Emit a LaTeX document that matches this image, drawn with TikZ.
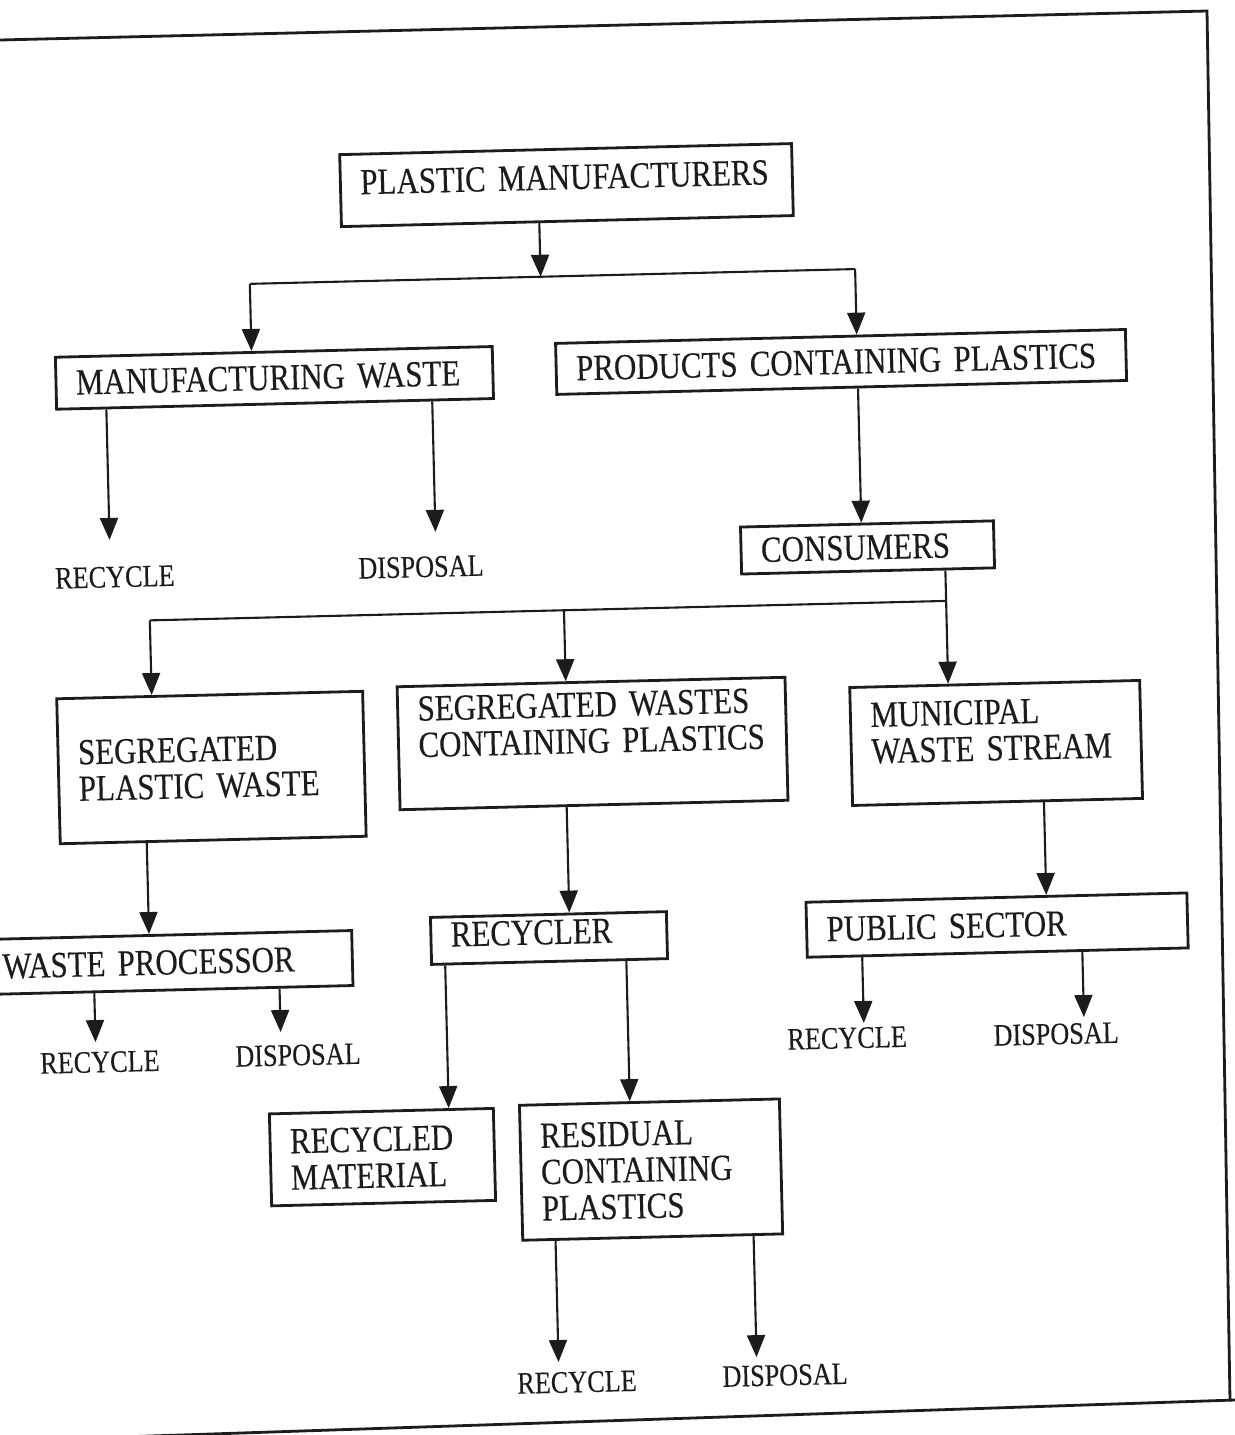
\documentclass[tikz,border=0pt]{standalone}
\usepackage{fontspec}
\setmainfont{Liberation Serif}
\newfontfamily\dfont[FakeStretch=0.84,FakeBold=0.25]{Liberation Serif}
\usetikzlibrary{arrows.meta}
\definecolor{ink}{RGB}{28,28,28}
\begin{document}
\begin{tikzpicture}[x=0.5pt,y=-0.5pt,
  box/.style={draw=ink, line width=1.4pt, inner xsep=10pt, inner ysep=0pt, align=left,
              font=\dfont\fontsize{18.4}{18.2}\selectfont, text=ink},
  lbl/.style={font=\dfont\fontsize{15.6}{16}\selectfont, text=ink, inner sep=0pt},
  arr/.style={draw=ink, line width=1.05pt, -{Triangle[width=9pt,length=11pt]}},
  ln/.style={draw=ink, line width=1.05pt},
  frameline/.style={draw=ink, line width=1.4pt}]
\useasboundingbox (0,0) rectangle (1235,1435);
\fill[white] (0,0) rectangle (1235,1435);
% page frame of the scan
\coordinate (f1) at (0,40);
\coordinate (f2) at (1207,11);
\coordinate (f3) at (1230,1401);
\coordinate (f4) at (0,1441);
\coordinate (f5) at (1235,1400);
\draw[frameline] (f1) -- (f2) -- (f3);
\draw[frameline] (f4) -- (f5);
\begin{scope}[rotate around={1.4:(617,717)}, transform shape]
% boxes
\node[box, text width=206pt, minimum height=36pt] (pm) at (579.5,184)
  {\mbox{PLASTIC MANUFACTURERS}\rule[-8pt]{0pt}{0pt}};
\node[box, text width=198.5pt, minimum height=26pt] (mw) at (282.8,369.6)
  {\mbox{MANUFACTURING WASTE}};
\node[box, text width=265pt, minimum height=25.5pt] (pcp) at (849.7,367.5)
  {\mbox{PRODUCTS CONTAINING PLASTICS}};
\node[box, text width=106.5pt, minimum height=23.5pt] (cons) at (871.6,553.6)
  {\mbox{CONSUMERS}};
\node[box, text width=133pt, minimum height=72.5pt] (spw) at (210.3,757.6)
  {\mbox{SEGREGATED}\\\mbox{PLASTIC WASTE}};
\node[box, text width=174pt, minimum height=61.5pt] (swcp) at (591.9,742.9)
  {\mbox{SEGREGATED WASTES}\\\mbox{CONTAINING PLASTICS}\rule[-21pt]{0pt}{0pt}};
\node[box, text width=125pt, minimum height=59pt] (mws) at (995.4,752.2)
  {\mbox{MUNICIPAL}\\\mbox{WASTE STREAM}\rule[-13pt]{0pt}{0pt}};
\node[box, text width=165pt, minimum height=27.5pt] (wp) at (161.5,951.5)
  {\mbox{WASTE PROCESSOR}};
\node[box, text width=98pt, minimum height=23.5pt] (rcy) at (543.6,936.3)
  {\mbox{RECYCLER}\rule[-6pt]{0pt}{0pt}};
\node[box, text width=170.5pt, minimum height=27.5pt] (ps) at (991.9,934.3)
  {\mbox{PUBLIC SECTOR}};
\node[box, text width=92pt, minimum height=46pt] (rm) at (371.8,1151.3)
  {\mbox{RECYCLED}\\\mbox{MATERIAL}};
\node[box, text width=110pt, minimum height=67.5pt] (res) at (640,1170.3)
  {\mbox{RESIDUAL}\\\mbox{CONTAINING}\\\mbox{PLASTICS}};
% labels
\node[lbl] (l1) at (118.4,564.8) {RECYCLE};
\node[lbl] (l2) at (424.7,562.2) {DISPOSAL};
\node[lbl] (l3) at (91.6,1049.4) {RECYCLE};
\node[lbl] (l4) at (289.8,1047.2) {DISPOSAL};
\node[lbl] (l5) at (560.8,1381) {RECYCLE};
\node[lbl] (l6) at (769,1379.1) {DISPOSAL};
\node[lbl] (l7) at (839.2,1043.6) {RECYCLE};
\node[lbl] (l8) at (1048.3,1044.7) {DISPOSAL};
% junction and tip coordinates
\coordinate (j1) at (551.4,275);
\coordinate (j1l) at (260.5,275);
\coordinate (j1r) at (866,275);
\coordinate (j2l) at (152.3,609);
\coordinate (j2m) at (566.6,609);
\coordinate (j2r) at (948.9,609);
\coordinate (c1) at (143.8,900);
\coordinate (c2) at (564.5,860);
\coordinate (c3) at (439.2,1030);
\coordinate (c4) at (620.4,1030);
\coordinate (c5) at (1041.8,860);
\coordinate (t1) at (114,527.6);
\coordinate (t2) at (440,527.5);
\coordinate (t3) at (87.7,1029.3);
\coordinate (t4) at (273,1023.8);
\coordinate (t5) at (542.8,1360.5);
\coordinate (t6) at (740.9,1360.4);
\coordinate (t7) at (856.3,1029);
\coordinate (t8) at (1076.5,1028.4);
% connectors
\draw[arr] (pm.south -| j1) -- (j1);
\draw[ln] (j1l) -- (j1r);
\draw[arr] (j1l) -- (j1l |- mw.north);
\draw[arr] (j1r) -- (j1r |- pcp.north);
\draw[arr] (mw.south -| t1) -- (t1);
\draw[arr] (mw.south -| t2) -- (t2);
\draw[arr] (pcp.south -| j1r) -- (cons.north -| j1r);
\draw[arr] (cons.south -| j2r) -- (mws.north -| j2r);
\draw[ln] (j2l) -- (j2r);
\draw[arr] (j2l) -- (spw.north -| j2l);
\draw[arr] (j2m) -- (swcp.north -| j2m);
\draw[arr] (spw.south -| c1) -- (wp.north -| c1);
\draw[arr] (wp.south -| t3) -- (t3);
\draw[arr] (wp.south -| t4) -- (t4);
\draw[arr] (swcp.south -| c2) -- (rcy.north -| c2);
\draw[arr] (rcy.south -| c3) -- (rm.north -| c3);
\draw[arr] (rcy.south -| c4) -- (res.north -| c4);
\draw[arr] (res.south -| t5) -- (t5);
\draw[arr] (res.south -| t6) -- (t6);
\draw[arr] (mws.south -| c5) -- (ps.north -| c5);
\draw[arr] (ps.south -| t7) -- (t7);
\draw[arr] (ps.south -| t8) -- (t8);
\end{scope}
\end{tikzpicture}
\end{document}
